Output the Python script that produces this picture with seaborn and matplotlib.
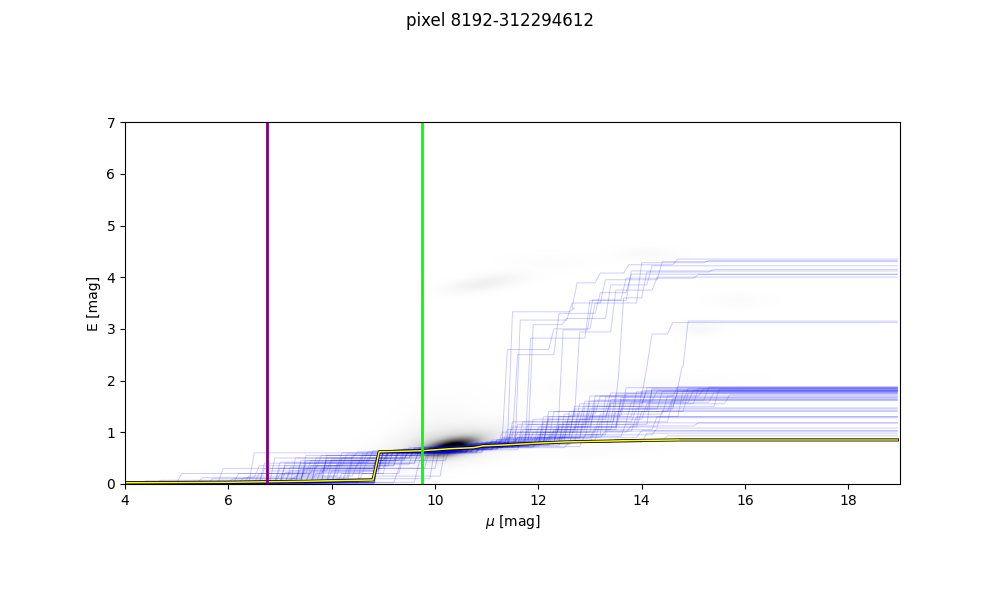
import numpy as np
import pandas as pd
import matplotlib
matplotlib.use("Agg")
import matplotlib.pyplot as plt
import seaborn as sns

# extinction profile samples: start value + list of (mu, new E) jumps
samples = [
    (0.02, [(7.1, .32), (8.9, .62), (10.6, .74), (11.6, 1.05), (12.9, 1.45), (14.6, 1.82)]),
    (0.03, [(6.9, .18), (7.8, .45), (9.2, .66), (11.2, .85), (12.3, 1.3), (13.8, 1.78)]),
    (0.02, [(8.82, .6), (10.2, .7), (11.9, .95), (13.3, 1.55), (15.0, 1.85)]),
    (0.02, [(4.6, .07), (7.4, .4), (9.6, .7), (11.4, 1.2), (12.8, 1.6), (14.2, 1.8)]),
    (0.02, [(6.4, .6), (9.9, .72), (11.0, .8), (12.1, 1.4), (14.8, 1.76)]),
    (0.03, [(5.0, .2), (7.6, .5), (9.4, .65), (10.9, .78), (12.6, 1.1), (13.5, 1.62), (15.2, 1.87)]),
    (0.02, [(7.9, .25), (8.85, .6), (10.4, .72), (12.0, 1.0), (13.1, 1.35), (14.4, 1.7)]),
    (0.02, [(6.2, .12), (8.3, .55), (10.1, .7), (11.5, .9), (12.8, 1.5), (15.4, 1.83)]),
    (0.02, [(7.3, .45), (9.0, .62), (10.8, .76), (11.7, 1.15), (13.9, 1.8)]),
    (0.03, [(8.0, .1), (9.9, .7), (11.3, .82), (12.4, 1.2), (13.7, 1.58), (14.9, 1.81)]),
    (0.02, [(5.8, .3), (7.7, .55), (9.3, .68), (11.1, .85), (12.2, 1.05), (13.4, 1.4), (14.5, 1.65)]),
    (0.02, [(7.0, .22), (8.6, .5), (9.7, .67), (10.7, .8), (12.7, 1.25), (14.0, 1.55), (15.6, 1.72)]),
    (0.02, [(8.82, .6), (10.5, .72), (11.8, .88), (13.0, 1.1), (14.3, 1.42)]),
    (0.03, [(6.6, .3), (8.1, .6), (10.0, .72), (11.4, 1.0), (12.5, 1.32), (13.6, 1.75)]),
    (0.02, [(7.5, .35), (9.1, .66), (10.9, .8), (12.3, 1.15), (14.1, 1.84)]),
    (0.02, [(4.3, .06), (7.2, .15), (8.4, .4), (9.6, .66), (11.6, .95), (13.2, 1.68)]),
    (0.02, [(9.2, .3), (10.0, .72), (11.2, .9), (12.9, 1.3), (14.7, 1.8)]),
    (0.02, [(6.9, .42), (8.7, .64), (10.3, .74), (11.9, 1.1), (13.0, 1.5), (14.0, 1.86)]),
    (0.03, [(7.6, .2), (8.9, .62), (10.6, .76), (12.1, .92), (13.6, 1.18)]),
    (0.02, [(5.4, .12), (6.5, .35), (8.2, .58), (9.8, .7), (11.3, .95), (12.6, 1.45), (14.3, 1.79)]),
    (0.02, [(8.0, .38), (9.5, .7), (11.0, .85), (11.8, 1.25), (13.3, 1.63)]),
    (0.02, [(7.1, .1), (8.8, .6), (10.8, .74), (12.2, 1.02), (13.8, 1.3)]),
    (0.02, [(6.7, .25), (7.9, .48), (9.4, .64), (10.7, .78), (12.4, 1.35), (13.1, 1.7), (15.1, 1.84)]),
    (0.03, [(8.5, .2), (9.0, .62), (10.9, .72), (12.8, .95), (14.2, 1.08)]),
    (0.02, [(7.4, .55), (9.7, .72), (11.5, .9), (12.6, 1.5), (14.6, 1.78)]),
    (0.02, [(6.1, .2), (7.8, .35), (9.2, .62), (10.2, .72), (11.7, 1.05), (13.5, 1.45)]),
    (0.02, [(8.83, .6), (10.4, .7), (12.5, .8), (14.0, .98)]),
    (0.02, [(7.0, .4), (8.6, .62), (10.5, .78), (11.4, 1.1), (12.9, 1.6), (14.8, 1.85)]),
    (0.03, [(9.6, .45), (10.2, .72), (11.6, .85), (13.1, 1.2), (14.5, 1.62)]),
    (0.02, [(7.7, .3), (9.3, .66), (11.1, .78), (12.0, 1.2), (13.4, 1.74)]),
    (0.02, [(6.3, .15), (8.1, .5), (9.5, .66), (10.8, .8), (12.3, 1.1), (13.9, 1.4)]),
    (0.02, [(7.2, .5), (9.1, .65), (10.6, .76), (11.9, .9), (13.2, 1.02)]),
    (0.02, [(8.82, .6), (10.0, .68), (11.2, .76), (12.6, .84), (14.4, .93)]),
    (0.03, [(7.5, .25), (8.9, .6), (10.3, .74), (11.5, 1.0), (12.7, 1.4), (14.1, 1.82)]),
    (0.02, [(6.8, .5), (8.4, .62), (9.9, .7), (11.3, .88), (12.8, 1.28)]),
    (0.02, [(7.9, .45), (9.4, .7), (10.9, .82), (12.1, 1.3), (13.3, 1.58), (15.3, 1.77)]),
    (0.02, [(5.6, .1), (7.3, .28), (8.9, .62), (10.7, .74), (12.4, 1.0), (13.7, 1.12), (15.0, 1.18)]),
    (0.02, [(8.2, .3), (9.8, .68), (11.0, .82), (12.2, 1.4), (13.6, 1.86)]),
    (0.02, [(7.6, .42), (9.2, .64), (10.4, .74), (11.8, 1.0), (13.0, 1.62)]),
    (0.03, [(8.7, .15), (10.1, .7), (11.6, .8), (13.4, .86)]),
    (0.02, [(6.5, .2), (7.5, .45), (9.0, .65), (10.5, .76), (11.5, 1.15), (12.9, 1.7), (14.6, 1.88)]),
    (0.02, [(7.8, .55), (9.6, .68), (11.2, .88), (12.5, 1.2), (13.8, 1.47)]),
    (0.02, [(8.82, .6), (10.3, .72), (11.9, .8), (13.0, 1.05), (14.2, 1.3)]),
    (0.02, [(7.0, .35), (8.5, .58), (10.0, .74), (11.3, 1.05), (12.7, 1.55), (14.0, 1.8)]),
    (0.03, [(6.0, .1), (7.4, .3), (8.8, .6), (10.6, .78), (12.0, 1.1), (13.5, 1.67)]),
    (0.02, [(8.1, .2), (9.3, .6), (10.9, .76), (12.3, .9), (13.9, 1.03)]),
    # samples with a big cloud further out
    (0.02, [(7.3, .4), (9.0, .64), (10.5, .75), (11.4, 3.33), (12.6, 3.4), (12.65, 3.89), (13.1, 4.08), (13.65, 4.24), (14.6, 4.35)]),
    (0.02, [(8.82, .6), (10.3, .72), (11.55, 3.17), (12.55, 3.5), (13.2, 3.95), (14.3, 4.3)]),
    (0.03, [(6.9, .3), (8.8, .62), (10.6, .76), (11.8, 3.08), (12.45, 3.2), (13.3, 3.85), (14.1, 4.22)]),
    (0.02, [(7.8, .5), (9.5, .68), (10.9, .8), (11.75, 2.82), (12.9, 3.55), (13.7, 4.12)]),
    (0.02, [(8.3, .45), (9.8, .7), (11.2, 1.0), (12.38, 2.98), (12.95, 3.56), (13.6, 3.98), (15.0, 4.05)]),
    (0.02, [(7.1, .25), (8.9, .62), (10.7, .78), (12.0, 1.3), (12.7, 2.94), (13.4, 3.75), (14.2, 4.0)]),
    (0.02, [(6.6, .4), (9.1, .64), (10.4, .74), (11.6, 1.2), (13.45, 2.07), (13.55, 3.6), (14.0, 4.1), (15.3, 4.15)]),
    (0.02, [(7.6, .35), (9.2, .66), (11.0, .82), (11.3, 2.6), (12.2, 3.0), (13.0, 3.5), (13.9, 4.28), (15.2, 4.32)]),
    (0.02, [(8.0, .3), (9.0, .62), (10.8, .78), (12.1, 1.25), (13.0, 1.7), (14.0, 2.26), (14.1, 2.9), (14.5, 3.12)]),
    (0.02, [(7.4, .45), (9.3, .66), (11.1, .85), (12.5, 1.4), (13.3, 1.76), (14.68, 2.26), (14.8, 3.15)]),
    (0.02, [(8.5, .55), (9.9, .7), (11.3, .9), (11.5, 2.5), (12.3, 3.3), (13.1, 3.7), (13.7, 4.06)]),
]

# best fit profile
best_mu = [4.0, 6.0, 7.5, 8.8, 8.92, 9.74, 10.3, 10.75, 10.93, 11.3, 12.03, 12.5, 13.0, 13.97, 14.75, 18.95]
best_E = [0.02, 0.03, 0.05, 0.075, 0.62, 0.64, 0.68, 0.70, 0.735, 0.75, 0.79, 0.81, 0.82, 0.84, 0.85, 0.85]

# density peaks behind the samples
blob_mu = [10.3, 10.35, 10.0, 10.95, 14.1, 15.1, 15.9, 14.0, 13.2, 12.2]
blob_E = [0.70, 0.76, 1.10, 3.88, 4.45, 3.00, 3.55, 1.90, 0.64, 4.3]
blob_wmu = [0.33, 0.80, 0.50, 0.50, 0.40, 0.30, 0.40, 1.20, 0.80, 0.6]
blob_wE = [0.10, 0.22, 0.35, 0.10, 0.10, 0.09, 0.10, 0.12, 0.10, 0.12]
blob_tilt = [0.18, 0.15, 0.30, 0.15, 0.0, 0.0, 0.0, 0.05, 0.05, 0.0]
blob_amp = [1.0, 0.3, 0.06, 0.14, 0.05, 0.07, 0.035, 0.04, 0.03, 0.025]

mu_near, mu_far = 6.75, 9.75
mu_max = 18.95

# long-form table of the samples
rows = []
for i, (e0, jumps) in enumerate(samples):
    mu = [4.0]
    E = [e0]
    for m, v in jumps:
        mu += [m, m + 0.1]
        E += [E[-1], v]
    mu.append(mu_max)
    E.append(E[-1])
    for a, b in zip(mu, E):
        rows.append((i, a, b))
df = pd.DataFrame(rows, columns=["sample", "mu", "E"])

# density image
gx = np.linspace(4, 19, 600)
gy = np.linspace(0, 7, 280)
X, Y = np.meshgrid(gx, gy)
dens = np.zeros_like(X)
for cx, cy, sx, sy, t, a in zip(blob_mu, blob_E, blob_wmu, blob_wE, blob_tilt, blob_amp):
    dy = Y - cy - t * (X - cx)
    dens += a * np.exp(-0.5 * ((X - cx) / sx) ** 2 - 0.5 * (dy / sy) ** 2)

fig, ax = plt.subplots(figsize=(10, 6), dpi=100)
ax.imshow(dens, origin="lower", extent=[4, 19, 0, 7], cmap="Greys",
          vmin=0, vmax=1.1, interpolation="bilinear")

sns.lineplot(data=df, x="mu", y="E", units="sample", estimator=None, sort=False,
             color="blue", alpha=0.2, lw=0.7, ax=ax, legend=False)

best = pd.DataFrame({"mu": best_mu, "E": best_E})
sns.lineplot(data=best, x="mu", y="E", color="black", lw=2.2, sort=False, ax=ax)
sns.lineplot(data=best, x="mu", y="E", color="yellow", lw=1.1, sort=False, ax=ax)
tail = best[best["mu"] >= 14.75]
sns.lineplot(data=tail, x="mu", y="E", color="#a8a21c", lw=1.1, sort=False, ax=ax)

ax.axvline(mu_near, color="purple", lw=2)
ax.axvline(mu_far, color="lime", lw=2)

ax.set_xlim(4, 19)
ax.set_ylim(0, 7)
ax.set_aspect("equal")
ax.set_xlabel(r"$\mu$ [mag]")
ax.set_ylabel("E [mag]")
fig.suptitle("pixel 8192-312294612")

fig.savefig("out.png", dpi=100)
